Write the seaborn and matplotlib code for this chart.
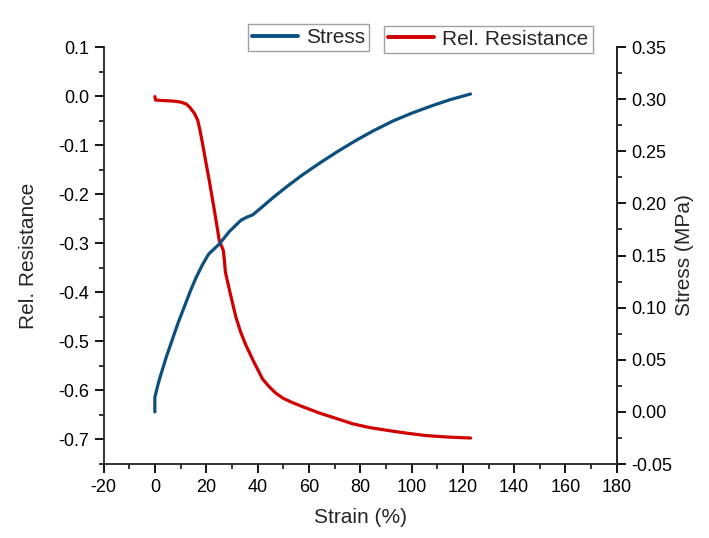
import pandas as pd
import matplotlib.pyplot as plt
from matplotlib.ticker import MultipleLocator
import seaborn as sns

# Rel. Resistance vs strain (left axis)
res_strain = [0, 0.3, 3.0, 6.9, 10.0, 12.2, 13.5, 15.4, 16.7, 17.6, 18.6, 20.0, 21.2,
              23.2, 25.1, 26.7, 27.0, 27.5, 29.5, 31.6, 33.5, 35.5, 38.5, 42.0, 44.5,
              47.0, 50.0, 53.7, 58.0, 64.1, 70.0, 77.1, 84.0, 91.4, 98.0, 105.7, 114.0,
              123.0]
res_values = [-0.001, -0.008, -0.009, -0.010, -0.012, -0.016, -0.022, -0.035, -0.049,
              -0.070, -0.097, -0.138, -0.172, -0.233, -0.294, -0.315, -0.330, -0.359,
              -0.405, -0.451, -0.482, -0.508, -0.541, -0.577, -0.592, -0.605, -0.616,
              -0.625, -0.634, -0.646, -0.656, -0.668, -0.676, -0.682, -0.687, -0.692,
              -0.695, -0.697]

# Stress vs strain (right axis)
stress_strain = [0, 0, 0.5, 1.2, 2.0, 3.0, 4.5, 6.9, 9.0, 11.5, 14.0, 16.1, 18.5, 20.6,
                 21.2, 25.1, 29.0, 33.6, 36.0, 38.1, 42.0, 46.0, 51.1, 57.0, 64.1, 71.0,
                 78.4, 85.0, 92.7, 100.0, 108.3, 115.0, 123.0]
stress_values = [0.0, 0.014, 0.019, 0.026, 0.033, 0.041, 0.053, 0.070, 0.085, 0.101,
                 0.117, 0.129, 0.141, 0.150, 0.152, 0.161, 0.173, 0.184, 0.187, 0.189,
                 0.197, 0.2055, 0.2155, 0.2265, 0.2385, 0.2495, 0.2605, 0.2695, 0.279,
                 0.2865, 0.294, 0.2995, 0.305]

res_df = pd.DataFrame({'strain': res_strain, 'value': res_values})
stress_df = pd.DataFrame({'strain': stress_strain, 'value': stress_values})

sns.set_style("ticks")
plt.rcParams['font.family'] = ['Liberation Sans', 'DejaVu Sans']
plt.rcParams['axes.unicode_minus'] = False
plt.rcParams['xtick.direction'] = 'out'
plt.rcParams['ytick.direction'] = 'out'

blue = '#0b4f7e'
red = '#d10000'

fig = plt.figure(figsize=(7.09, 5.38), dpi=100)
ax = fig.add_axes([0.146, 0.1375, 0.724, 0.775])
ax2 = ax.twinx()

sns.lineplot(data=res_df, x='strain', y='value', ax=ax, color=red, lw=2.3,
             sort=False, estimator=None, label='Rel. Resistance', legend=False)
sns.lineplot(data=stress_df, x='strain', y='value', ax=ax2, color=blue, lw=2.3,
             sort=False, estimator=None, label='Stress', legend=False)

ax.set_xlim(-20, 180)
ax.set_ylim(-0.75, 0.1)
ax2.set_ylim(-0.05, 0.35)

ax.xaxis.set_major_locator(MultipleLocator(20))
ax.xaxis.set_minor_locator(MultipleLocator(10))
ax.yaxis.set_major_locator(MultipleLocator(0.1))
ax.yaxis.set_minor_locator(MultipleLocator(0.05))
ax2.yaxis.set_major_locator(MultipleLocator(0.05))
ax2.yaxis.set_minor_locator(MultipleLocator(0.025))
ax.yaxis.set_major_formatter(plt.FormatStrFormatter('%.1f'))
ax2.yaxis.set_major_formatter(plt.FormatStrFormatter('%.2f'))

for a in (ax, ax2):
    a.spines['top'].set_visible(False)
    for s in a.spines.values():
        s.set_linewidth(1.3)
    a.tick_params(which='major', length=6.5, width=1.3, labelsize=13, colors='black', pad=4)
    a.tick_params(which='minor', length=3.5, width=1.3)
ax2.spines['left'].set_visible(False)
ax2.spines['bottom'].set_visible(False)

ax.set_xlabel('Strain (%)', fontsize=15, labelpad=9)
ax.set_ylabel('Rel. Resistance', fontsize=15, labelpad=14)
ax2.set_ylabel('Stress (MPa)', fontsize=15, labelpad=2)

# two separate legend boxes above the plot
h1, l1 = ax2.get_legend_handles_labels()
h2, l2 = ax.get_legend_handles_labels()
leg_kw = dict(loc='center', fontsize=15, frameon=True, fancybox=False,
              edgecolor='#888888', handlelength=2.2, borderpad=0.2,
              handletextpad=0.4, borderaxespad=0)
leg1 = fig.legend(h1, l1, bbox_to_anchor=(0.435, 0.930), **leg_kw)
leg2 = fig.legend(h2, l2, bbox_to_anchor=(0.689, 0.927), **leg_kw)
for lg in (leg1, leg2):
    lg.get_frame().set_linewidth(1.0)
    for ln in lg.get_lines():
        ln.set_linewidth(2.8)

fig.savefig('out.png', dpi=100)
